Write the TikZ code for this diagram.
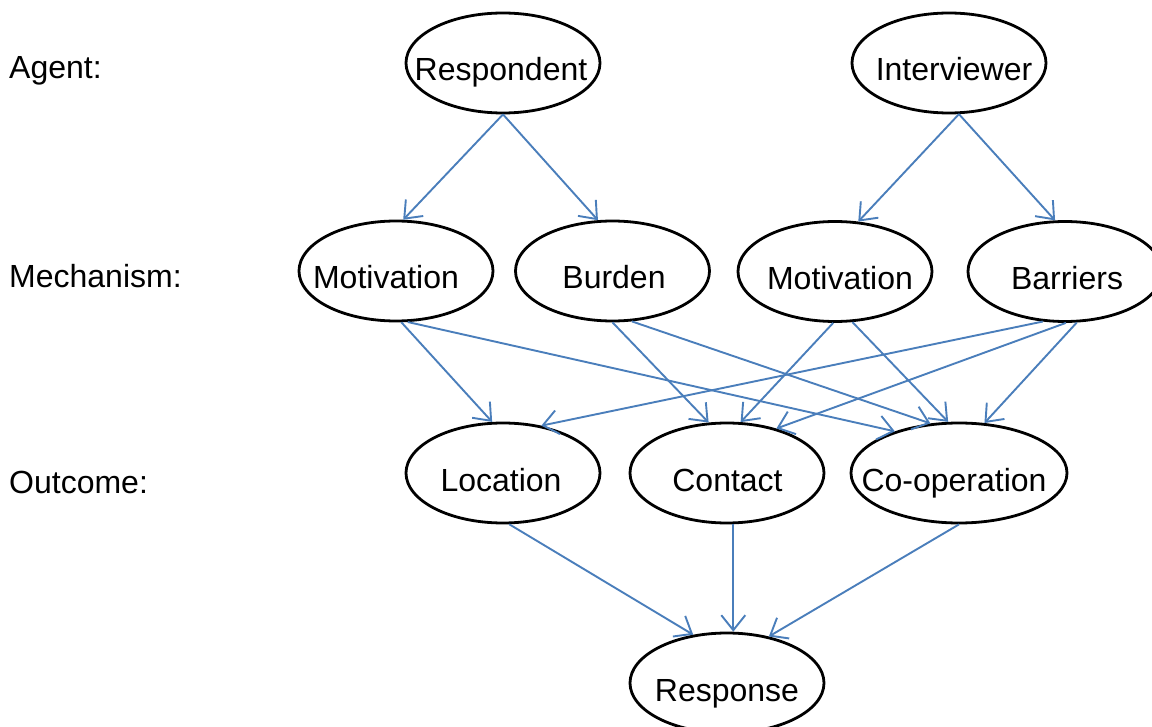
\documentclass[tikz,border=0pt]{standalone}
\usepackage{fontspec}
\setmainfont{Liberation Sans}
\usetikzlibrary{arrows.meta,shapes.geometric}
\definecolor{arrowblue}{RGB}{74,126,187}
\newcommand\elltext[2][0]{\makebox[0pt]{\hspace*{#1pt}\raisebox{-18pt}[0pt][0pt]{#2}}}
\begin{document}
\begin{tikzpicture}[x=1pt,y=-1pt,
  font=\fontsize{32}{38}\selectfont,
  ell/.style={ellipse, draw, line width=2.8pt, minimum width=194pt, minimum height=100pt, inner sep=0pt},
  rowlabel/.style={anchor=base west, inner sep=0pt},
  arr/.style={draw=arrowblue, line width=1.9pt, -{Straight Barb[length=15pt,width=24pt]}}]
\useasboundingbox (0,0) rectangle (1152,727);
\clip (0,0) rectangle (1152,727);
% row labels
\node[rowlabel] (agent) at (9,79) {Agent:};
\node[rowlabel] (mech) at (9,288) {Mechanism:};
\node[rowlabel] (outc) at (9,493) {Outcome:};
% agents
\node[ell] (resp) at (503,63) {\elltext[-4]{Respondent}};
\node[ell] (intv) at (949,63) {\elltext[10]{Interviewer}};
% mechanisms
\node[ell] (mot1) at (396,271) {\elltext[-20]{Motivation}};
\node[ell] (burd) at (612.5,271) {\elltext[3]{Burden}};
\node[ell] (mot2) at (835,271.5) {\elltext[10]{Motivation}};
\node[ell] (barr) at (1065,271.5) {\elltext[4]{Barriers}};
% outcomes
\node[ell] (loc) at (503,473) {\elltext[-4]{Location}};
\node[ell] (cont) at (727,473) {\elltext[1]{Contact}};
\node[ell, minimum width=216pt] (coop) at (959,473) {\elltext[-10]{Co-operation}};
% response
\node[ell] (resn) at (727,683) {\elltext{Response}};
% agent -> mechanism
\draw[arr] (resp.south) -- (mot1.82);
\draw[arr] (resp.south) -- (burd.106);
\draw[arr] (intv.281) -- (mot2.65.5);
\draw[arr] (intv.281) -- (barr.101);
% mechanism -> outcome
\draw[arr] (mot1.276.5) -- (loc.102);
\draw[arr] (mot1.283) -- (coop.147.6);
\draw[arr] (burd.270) -- (cont.110.4);
\draw[arr] (burd.291) -- (coop.120);
\draw[arr] (mot2.268) -- (cont.75.7);
\draw[arr] (mot2.289) -- (coop.102.4);
\draw[arr] (barr.246.3) -- (loc.51.9);
\draw[arr] (barr.271) -- (cont.42.3);
\draw[arr] (barr.283.4) -- (coop.63.4);
% outcome -> response
\draw[arr] (loc.277.4) -- (resn.125.8);
\draw[arr] (cont.277) -- (resn.83.2);
\draw[arr] (coop.270) -- (resn.48.7);
\end{tikzpicture}
\end{document}
